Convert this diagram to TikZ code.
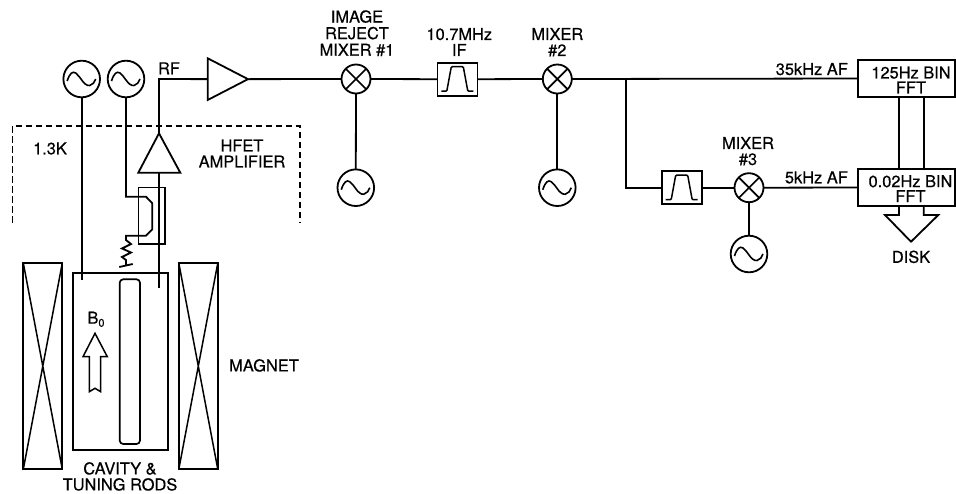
\documentclass[tikz,border=0pt]{standalone}
\usepackage{fontspec}
\setmainfont{TeX Gyre Heros}[FakeBold=0.5]
\newcommand{\subzero}{\raisebox{-3pt}{\fontsize{11}{11}\selectfont 0}}
\begin{document}
\begin{tikzpicture}[x=1pt,y=-1pt,line join=miter,
  wire/.style={line width=1.8pt},
  lbl/.style={font=\fontsize{16.4}{16}\selectfont,inner sep=0pt,align=center,text depth=0pt},
  osc/.style={circle,draw,line width=1.8pt,minimum size=36.6pt,inner sep=0pt,outer sep=0pt,
    path picture={\draw[line width=1.6pt,shift={(path picture bounding box.center)}]
      (-14.5,2) .. controls (-12,-6) and (-9,-8) .. (-6,-6) .. controls (-3,-4) and (-2,-1) .. (0,1)
      .. controls (2,4) and (5,7) .. (8,6.5) .. controls (11,6) and (13,3) .. (14,0);}},
  mixer/.style={circle,draw,line width=1.8pt,minimum size=29pt,inner sep=0pt,outer sep=0pt,
    path picture={\draw[line width=1.7pt]
      (path picture bounding box.south west) -- (path picture bounding box.north east)
      (path picture bounding box.north west) -- (path picture bounding box.south east);}},
  bpf/.style={rectangle,draw,line width=1.6pt,minimum width=40pt,minimum height=33pt,inner sep=0pt,outer sep=0pt,
    path picture={\draw[line width=1.5pt,shift={(path picture bounding box.center)},rounded corners=1pt]
      (-16,12) -- (-10.5,12) -- (-6,-12.5) -- (6,-12.5) -- (10.5,12) -- (16,12);}},
  fftbox/.style={rectangle,draw,line width=1.7pt,minimum width=97pt,minimum height=36.4pt,inner sep=0pt,outer sep=0pt},
  coil/.style={rectangle,draw,line width=1.7pt,minimum width=39pt,minimum height=206.3pt,inner sep=0pt,outer sep=0pt,
    path picture={\draw[line width=1.5pt]
      (path picture bounding box.south west) -- (path picture bounding box.north east)
      (path picture bounding box.north west) -- (path picture bounding box.south east);}},
  ampr/.style={rectangle,minimum width=40.3pt,minimum height=41.7pt,inner sep=0pt,outer sep=0pt}
]
\useasboundingbox (0,0) rectangle (956,493);

% oscillators and RF chain
\node[osc] (osca) at (81.7,79) {};
\node[osc] (oscb) at (126,79) {};
\node[ampr] (amp) at (227.85,79.15) {};
\draw[wire] (amp.north west) -- (amp.east) -- (amp.south west) -- cycle;
\node[mixer] (mixa) at (356,79) {};
\node[osc] (oscc) at (355.8,187.7) {};
\node[bpf] (ifbox) at (457.3,79.2) {};
\node[mixer] (mixb) at (557.3,79) {};
\node[osc] (oscd) at (557.3,187.7) {};
\node[bpf] (afbox) at (681.7,187.7) {};
\node[mixer] (mixc) at (749,187.7) {};
\node[osc] (osce) at (749,254) {};
\node[fftbox] (ffta) at (906.8,78.5) {};
\node[fftbox] (fftb) at (906.8,187.5) {};

% HFET amplifier
\coordinate (hfetapex) at (159,133.3);
\coordinate (hfetl) at (138.3,172.7);
\coordinate (hfetr) at (180.3,172.7);
\coordinate (hfetin) at (159,172.7);
\draw[wire] (hfetapex) -- (hfetl) -- (hfetr) -- cycle;
\node[rectangle,draw,line width=1.5pt,minimum width=26.3pt,minimum height=56.7pt,inner sep=0pt,outer sep=0pt] (coupler) at (151.85,215.65) {};

% cavity and magnet
\node[rectangle,draw,line width=1.7pt,minimum width=95.6pt,minimum height=176.7pt,inner sep=0pt,outer sep=0pt] (cavity) at (120.5,361.65) {};
\node[rectangle,rounded corners=3.5pt,draw,line width=1.7pt,minimum width=20.3pt,minimum height=164.7pt,inner sep=0pt,outer sep=0pt] (rod) at (129.85,361.65) {};
\node[coil] (coill) at (42.8,366.15) {};
\node[coil] (coilr) at (198.3,366.15) {};

% free ends
\coordinate (endA) at (81.7,280);
\coordinate (endB) at (159,287.7);
\coordinate (rfcorner) at (159,79);
\coordinate (junction) at (626,79);

% wires
\draw[wire] (osca.south) -- (endA);
\draw[wire] (hfetapex) -- (rfcorner) -- (amp.west);
\draw[wire] (hfetin) -- (endB);
\draw[wire] (amp.east) -- (mixa.west);
\draw[wire] (mixa.east) -- (ifbox.west);
\draw[wire] (ifbox.east) -- (mixb.west);
\draw[wire] (mixb.east) -- (ffta.west);
\draw[wire] (mixa.south) -- (oscc.north);
\draw[wire] (mixb.south) -- (oscd.north);
\draw[wire] (junction) |- (afbox.west);
\draw[wire] (afbox.east) -- (mixc.west);
\draw[wire] (mixc.east) -- (fftb.west);
\draw[wire] (mixc.south) -- (osce.north);
\coordinate (ccA) at (899,96.7);
\coordinate (ccB) at (899,169.3);
\coordinate (ccC) at (923.7,96.7);
\coordinate (ccD) at (923.7,169.3);
\draw[wire] (ccA) -- (ccB);
\draw[wire] (ccC) -- (ccD);

% coupling loop and load resistor
\draw[wire] (oscb.south) -- (126,196.7) -- (146,196.7) -- (152.3,203.3) -- (152.3,229.3) -- (146,235.7) -- (126,235.7)
  -- (126,240) -- (131,244) -- (122,248.5) -- (131,252.5) -- (122,257) -- (126,260) -- (126,265.5);
\draw[wire] (119.3,267) -- (132.7,264);

% dashed enclosure
\draw[line width=1.6pt,dash pattern=on 6.5pt off 3.5pt] (12.3,222.7) -- (12.3,126) -- (300,126) -- (300,222.7);

% field arrow
\draw[line width=1.5pt] (95,333.3) -- (83,356.7) -- (89.3,356.7) -- (89.3,391.7) -- (95,388.3) -- (100.7,391.7) -- (100.7,356.7) -- (107.3,356.7) -- cycle;

% disk arrow
\draw[wire] (899,205.7) -- (899,215) -- (885,215) -- (911,241.7) -- (938.3,215) -- (923.7,215) -- (923.7,205.7);

% labels
\node[lbl] (trf) at (169,68.3) {RF};
\node[lbl] (tcold) at (50,148.3) {1.3K};
\node[lbl] (thfet) at (242,153.5) {HFET\\AMPLIFIER};
\node[lbl] (timg) at (357,33) {IMAGE\\[0.6pt]REJECT\\[0.6pt]MIXER \#1};
\node[lbl] (tif) at (459.3,42) {10.7MHz\\IF};
\node[lbl] (tmb) at (557.3,42) {MIXER\\\#2};
\node[lbl] (tmc) at (748,151) {MIXER\\\#3};
\node[lbl,anchor=east] (taf) at (848,69) {35kHz AF};
\node[lbl,anchor=east] (tag) at (848,177.3) {5kHz AF};
\node[lbl] (tfa) at (911,80) {125Hz BIN\\[-1pt]FFT};
\node[lbl] (tfb) at (910.5,188.7) {0.02Hz BIN\\[-1pt]FFT};
\node[lbl] (tdisk) at (911,256.7) {DISK};
\node[lbl] (tb) at (96,317.7) {B\subzero};
\node[lbl] (tmag) at (264,365.3) {MAGNET};
\node[lbl] (tcav) at (120,476.3) {CAVITY \&\\TUNING RODS};
\end{tikzpicture}
\end{document}
